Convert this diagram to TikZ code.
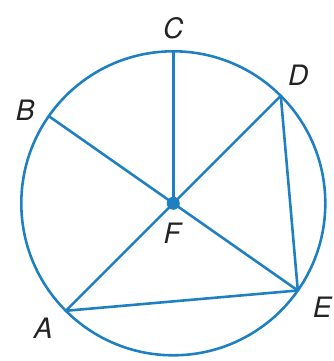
\documentclass[tikz,border=0pt]{standalone}
\usepackage{fontspec}
\setmainfont{TeX Gyre Heros}
\usepackage{tikz}

\definecolor{lineblue}{RGB}{30,128,192}
\definecolor{labelgray}{RGB}{35,35,35}

\begin{document}
\begin{tikzpicture}[x=0.03cm,y=0.03cm]
    \useasboundingbox (-173.3,-157.7) rectangle (160.7,203.3);
    \tikzset{seg/.style={draw=lineblue,line width=2.2pt},
             lbl/.style={text=labelgray,font=\fontsize{24}{24}\selectfont\itshape}}
    \coordinate (F) at (0,0);
    \coordinate (A) at (225:152);
    \coordinate (B) at (145:152);
    \coordinate (C) at (90:152);
    \coordinate (D) at (45:152);
    \coordinate (E) at (-35:152);
    \draw[seg] (F) circle (152);
    \draw[seg] (F) -- (A);
    \draw[seg] (F) -- (B);
    \draw[seg] (F) -- (C);
    \draw[seg] (F) -- (D);
    \draw[seg] (F) -- (E);
    \draw[seg,line join=round] (A) -- (E) -- (D);
    \fill[lineblue] (F) circle (6.5);
    \node[lbl] (lC) at (0,175) {C};
    \node[lbl] (lB) at (-148,93) {B};
    \node[lbl] (lD) at (125,128) {D};
    \node[lbl] (lE) at (149,-104) {E};
    \node[lbl] (lA) at (-130,-125) {A};
    \node[lbl] (lF) at (-1,-30) {F};
\end{tikzpicture}
\end{document}
